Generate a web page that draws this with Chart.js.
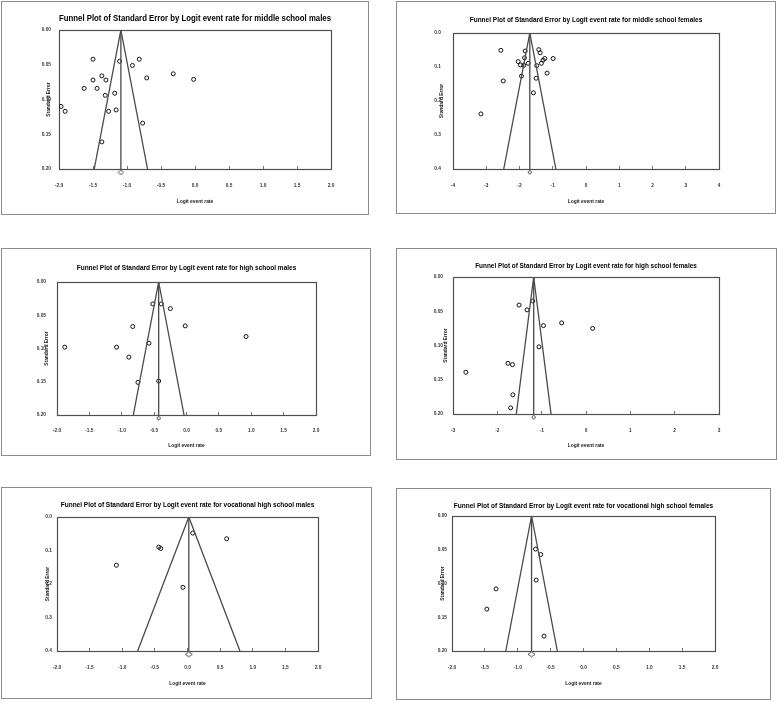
<!DOCTYPE html>
<html>
<head>
<meta charset="utf-8">
<script src="https://cdn.jsdelivr.net/npm/chart.js@4.4.1/dist/chart.umd.min.js"></script>
<style>
  html, body { margin: 0; padding: 0; background: #ffffff; }
  body { width: 778px; height: 702px; position: relative; overflow: hidden; }
  canvas { position: absolute; }
</style>
</head>
<body>
<canvas id="c1"></canvas>
<canvas id="c2"></canvas>
<canvas id="c3"></canvas>
<canvas id="c4"></canvas>
<canvas id="c5"></canvas>
<canvas id="c6"></canvas>
<script>
// ---------------- DATA ----------------
const panelTitles = [
  "Funnel Plot of Standard Error by Logit event rate for middle school males",
  "Funnel Plot of Standard Error by Logit event rate for middle school females",
  "Funnel Plot of Standard Error by Logit event rate for high school males",
  "Funnel Plot of Standard Error by Logit event rate for high school females",
  "Funnel Plot of Standard Error by Logit event rate for vocational high school males",
  "Funnel Plot of Standard Error by Logit event rate for vocational high school females"
];
const xAxisTitle = "Logit event rate";
const yAxisTitle = "Standard Error";

// middle school males
const msMaleLogit = [-1.50, -1.11, -0.82, -0.92, -1.37, -0.32, -0.71, -0.02, -1.50, -1.31, -1.63, -1.44, -1.32, -1.18, -1.97, -1.91, -1.27, -1.16, -0.77, -1.37];
const msMaleSE    = [0.042, 0.045, 0.042, 0.051, 0.066, 0.063, 0.069, 0.071, 0.072, 0.072, 0.084, 0.084, 0.094, 0.091, 0.110, 0.117, 0.117, 0.115, 0.134, 0.161];
// middle school females
const msFemaleLogit = [-2.56, -1.83, -1.42, -1.38, -1.85, -0.99, -1.24, -1.29, -2.04, -1.74, -1.34, -1.97, -1.87, -1.48, -1.17, -1.94, -1.50, -2.49, -1.58, -3.16];
const msFemaleSE    = [0.051, 0.053, 0.049, 0.058, 0.073, 0.075, 0.075, 0.080, 0.084, 0.089, 0.089, 0.094, 0.095, 0.096, 0.118, 0.127, 0.133, 0.141, 0.176, 0.238];
// high school males
const hsMaleLogit = [-1.88, -1.08, -0.89, -0.83, -0.58, -0.52, -0.39, -0.25, -0.02, 0.92, -0.75, -0.43];
const hsMaleSE    = [0.098, 0.098, 0.113, 0.067, 0.092, 0.033, 0.033, 0.040, 0.066, 0.082, 0.151, 0.149];
// high school females
const hsFemaleLogit = [-1.51, -1.20, -1.33, -0.96, -0.55, 0.15, -1.06, -1.76, -1.66, -2.71, -1.65, -1.70];
const hsFemaleSE    = [0.041, 0.035, 0.048, 0.071, 0.067, 0.075, 0.102, 0.126, 0.128, 0.139, 0.172, 0.191];
// vocational high school males
const vhsMaleLogit = [0.08, 0.60, -0.44, -0.41, -1.09, -0.07];
const vhsMaleSE    = [0.048, 0.065, 0.090, 0.094, 0.144, 0.210];
// vocational high school females
const vhsFemaleLogit = [-0.73, -0.65, -0.72, -1.33, -1.47, -0.60];
const vhsFemaleSE    = [0.049, 0.057, 0.095, 0.108, 0.138, 0.178];

// pooled (summary) logit event rate per panel
const pooledLogit = [-1.09, -1.69, -0.43, -1.18, 0.02, -0.79];
// maximum standard error shown (bottom of the y axis)
const maxSE = [0.20, 0.40, 0.20, 0.20, 0.40, 0.20];

// tick labels
const xTicksHalf  = [-2.0, -1.5, -1.0, -0.5, 0.0, 0.5, 1.0, 1.5, 2.0];
const xTicksFour  = [-4, -3, -2, -1, 0, 1, 2, 3, 4];
const xTicksThree = [-3, -2, -1, 0, 1, 2, 3];
const yTicksSmall = [0.00, 0.05, 0.10, 0.15, 0.20];
const yTicksLarge = [0.0, 0.1, 0.2, 0.3, 0.4];

const panelLogits = [msMaleLogit, msFemaleLogit, hsMaleLogit, hsFemaleLogit, vhsMaleLogit, vhsFemaleLogit];
const panelSEs    = [msMaleSE, msFemaleSE, hsMaleSE, hsFemaleSE, vhsMaleSE, vhsFemaleSE];
const panelXTicks = [xTicksHalf, xTicksFour, xTicksHalf, xTicksThree, xTicksHalf, xTicksHalf];
const panelXDec   = [1, 0, 1, 0, 1, 1];
const panelYTicks = [yTicksSmall, yTicksLarge, yTicksSmall, yTicksSmall, yTicksLarge, yTicksSmall];
const panelYDec   = [2, 1, 2, 2, 1, 2];

// ---------------- LAYOUT (pixels, relative to each frame) ----------------
const layouts = [
  {x:1,   y:1,   w:368, h:214, l:58, r:330, t:29, b:168, titleY:18, titleSize:8.2, xTickY:185, xTitleY:201, yTitleX:48, yGap:8,  diamondW:5, diamondH:5},
  {x:396, y:1,   w:380, h:213, l:57, r:323, t:32, b:168, titleY:19, titleSize:6.5, xTickY:185, xTitleY:201, yTitleX:46, yGap:12, diamondW:4, diamondH:4},
  {x:1,   y:248, w:370, h:208, l:56, r:315, t:34, b:167, titleY:20, titleSize:6.5, xTickY:183, xTitleY:198, yTitleX:46, yGap:11, diamondW:4, diamondH:4},
  {x:396, y:248, w:381, h:212, l:57, r:323, t:29, b:166, titleY:18, titleSize:6.4, xTickY:183, xTitleY:198, yTitleX:50, yGap:10, diamondW:4, diamondH:4},
  {x:1,   y:487, w:371, h:212, l:56, r:317, t:30, b:164, titleY:18, titleSize:6.5, xTickY:181, xTitleY:197, yTitleX:47, yGap:5,  diamondW:7, diamondH:5},
  {x:396, y:488, w:375, h:212, l:56, r:319, t:28, b:163, titleY:18, titleSize:6.5, xTickY:180, xTitleY:196, yTitleX:47, yGap:5,  diamondW:7, diamondH:5}
];

const FAMILY = "'Liberation Sans', Arial, Helvetica, sans-serif";
const LH = 1.2;

function diamondImage(w, h) {
  const cv = document.createElement('canvas');
  cv.width = w + 2; cv.height = h + 2;
  const ctx = cv.getContext('2d');
  ctx.fillStyle = '#fff';
  ctx.strokeStyle = '#333';
  ctx.lineWidth = 0.9;
  ctx.beginPath();
  ctx.moveTo(1, 1 + h / 2);
  ctx.lineTo(1 + w / 2, 1);
  ctx.lineTo(1 + w, 1 + h / 2);
  ctx.lineTo(1 + w / 2, 1 + h);
  ctx.closePath();
  ctx.fill();
  ctx.stroke();
  return cv;
}

const framePlugin = {
  id: 'framePlugin',
  beforeDatasetsDraw(chart) {
    const ctx = chart.ctx, a = chart.chartArea;
    ctx.save();
    ctx.strokeStyle = '#8c8c8c';
    ctx.lineWidth = 1;
    ctx.strokeRect(0.5, 0.5, chart.width - 1, chart.height - 1);
    ctx.strokeStyle = '#505050';
    ctx.lineWidth = 1.2;
    ctx.strokeRect(Math.round(a.left) + 0.5, Math.round(a.top) + 0.5, Math.round(a.right - a.left), Math.round(a.bottom - a.top));
    ctx.restore();
  }
};

function makePanel(i) {
  const L = layouts[i];
  const cv = document.getElementById('c' + (i + 1));
  cv.width = L.w; cv.height = L.h;
  cv.style.left = L.x + 'px'; cv.style.top = L.y + 'px';
  cv.style.width = L.w + 'px'; cv.style.height = L.h + 'px';

  const c = pooledLogit[i];
  const m = maxSE[i];
  const half = 1.96 * m;
  const pts = panelLogits[i].map((v, k) => ({x: v, y: panelSEs[i][k]}));

  const tickFont = {family: FAMILY, size: 4.8, weight: 'bold'};
  const axTitleFont = {family: FAMILY, size: 4.9, weight: 'bold'};
  const tLH = L.titleSize * LH;
  const tickLH = tickFont.size * LH;
  const axLH = axTitleFont.size * LH;
  const padLeft = 28, padBottom = 4;
  const tickLen = -3;

  new Chart(cv, {
    type: 'scatter',
    data: {
      datasets: [
        {
          label: 'funnel',
          data: [{x: c - half, y: m}, {x: c, y: 0}, {x: c + half, y: m}],
          showLine: true, borderColor: '#4a4a4a', borderWidth: 1.3,
          pointRadius: 0, tension: 0, fill: false
        },
        {
          label: 'pooled',
          data: [{x: c, y: 0}, {x: c, y: m}],
          showLine: true, borderColor: '#4a4a4a', borderWidth: 1.3,
          pointRadius: 0, tension: 0, fill: false
        },
        {
          label: 'studies',
          data: pts,
          pointStyle: 'circle', pointRadius: 2, pointBorderWidth: 1,
          pointBorderColor: '#111', pointBackgroundColor: 'rgba(255,255,255,0)',
          showLine: false
        },
        {
          label: 'summary',
          data: [{x: c, y: m * 1.024}],
          pointStyle: diamondImage(L.diamondW, L.diamondH), pointRadius: 3,
          showLine: false, clip: false
        }
      ]
    },
    options: {
      responsive: false,
      animation: false,
      devicePixelRatio: 1,
      events: [],
      layout: { padding: { left: padLeft, right: L.w - L.r, top: 0, bottom: padBottom } },
      plugins: {
        legend: { display: false },
        tooltip: { enabled: false },
        title: {
          display: true,
          text: panelTitles[i],
          fullSize: false,
          color: '#000',
          font: { family: FAMILY, size: L.titleSize, weight: 'bold', lineHeight: LH },
          padding: { top: L.titleY - tLH / 2, bottom: L.t - (L.titleY - tLH / 2) - tLH }
        }
      },
      scales: {
        x: {
          type: 'linear',
          min: panelXTicks[i][0],
          max: panelXTicks[i][panelXTicks[i].length - 1],
          afterBuildTicks: (s) => { s.ticks = panelXTicks[i].map(v => ({value: v})); },
          afterFit: (s) => { s.height = L.h - padBottom - L.b; },
          grid: { display: true, drawOnChartArea: false, drawTicks: true, tickLength: tickLen, color: '#777', lineWidth: 1 },
          border: { display: false },
          ticks: {
            font: tickFont, color: '#333', maxRotation: 0, autoSkip: false,
            padding: L.xTickY - L.b - tickLen - tickLH / 2,
            callback: (v) => Number(v).toFixed(panelXDec[i])
          },
          title: {
            display: true, text: xAxisTitle, color: '#222', font: axTitleFont,
            padding: { top: 0, bottom: (L.h - padBottom) - L.xTitleY - axLH / 2 }
          }
        },
        y: {
          type: 'linear',
          reverse: true,
          min: 0, max: m,
          afterBuildTicks: (s) => { s.ticks = panelYTicks[i].map(v => ({value: v})); },
          afterFit: (s) => { s.width = L.l - padLeft; },
          grid: { display: false, drawTicks: false },
          border: { display: false },
          ticks: {
            font: tickFont, color: '#333', autoSkip: false, padding: L.yGap,
            callback: (v) => Number(v).toFixed(panelYDec[i])
          },
          title: {
            display: true, text: yAxisTitle, color: '#222', font: axTitleFont,
            padding: { top: L.yTitleX - padLeft - axLH / 2, bottom: 0 }
          }
        }
      }
    },
    plugins: [framePlugin]
  });
}

for (let i = 0; i < 6; i++) makePanel(i);
</script>
</body>
</html>
